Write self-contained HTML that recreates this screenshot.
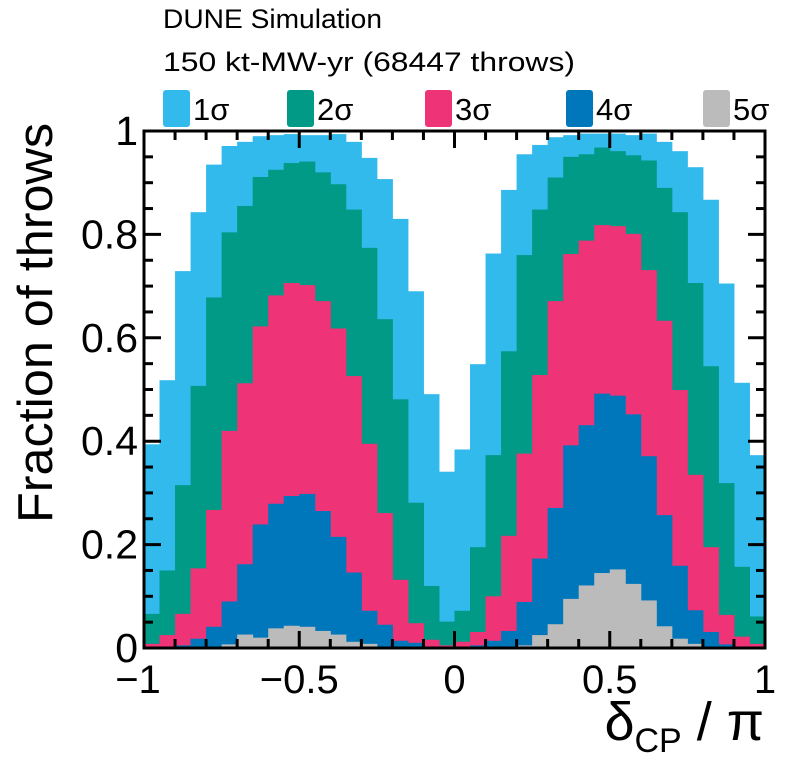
<!DOCTYPE html>
<html><head><meta charset="utf-8"><style>
body{margin:0;background:#fff}
svg{display:block;font-family:"Liberation Sans",Arial,sans-serif}
</style></head><body>
<svg id="chart" width="796" height="772" viewBox="0 0 796 772" xmlns="http://www.w3.org/2000/svg">
<text x="163" y="28" font-size="27" textLength="219" lengthAdjust="spacingAndGlyphs">DUNE Simulation</text>
<text x="163" y="71" font-size="27" textLength="412" lengthAdjust="spacingAndGlyphs">150 kt-MW-yr (68447 throws)</text>
<g id="legend"></g>
<g id="bars"></g>
<g id="axes"></g>
<text transform="translate(52,323) rotate(-90)" text-anchor="middle" font-size="49" textLength="400" lengthAdjust="spacingAndGlyphs">Fraction of throws</text>
<text x="764" y="740" text-anchor="end" font-size="54">δ<tspan font-size="34" dy="12">CP</tspan><tspan dy="-12"> / π</tspan></text>
</svg>
<script>
const legendLabels = ["1σ","2σ","3σ","4σ","5σ"];
const colors = ["#33baed","#009a86","#ee3377","#0077bb","#bbbbbb"];
const s1 = [0.394,0.518,0.729,0.843,0.935,0.971,0.979,0.990,0.992,0.994,0.992,0.992,0.994,0.979,0.948,0.907,0.830,0.690,0.491,0.341,
            0.384,0.549,0.763,0.886,0.955,0.973,0.988,0.992,0.995,0.995,0.995,0.992,0.995,0.979,0.961,0.930,0.867,0.705,0.513,0.373];
const s2 = [0.066,0.150,0.315,0.507,0.678,0.804,0.855,0.911,0.925,0.938,0.941,0.920,0.897,0.848,0.774,0.636,0.481,0.281,0.120,0.051,
            0.072,0.195,0.373,0.574,0.760,0.848,0.910,0.950,0.955,0.968,0.961,0.953,0.943,0.890,0.843,0.706,0.545,0.319,0.157,0.061];
const s3 = [0.008,0.025,0.066,0.154,0.267,0.420,0.512,0.622,0.682,0.706,0.702,0.671,0.618,0.526,0.395,0.261,0.132,0.048,0.016,0.005,
            0.012,0.031,0.100,0.217,0.376,0.528,0.671,0.762,0.788,0.818,0.816,0.801,0.731,0.633,0.499,0.335,0.195,0.064,0.022,0.008];
const s4 = [0,0,0.005,0.018,0.041,0.090,0.162,0.239,0.279,0.294,0.298,0.265,0.215,0.146,0.072,0.045,0.014,0.010,0,0,
            0,0.005,0.014,0.033,0.089,0.173,0.271,0.392,0.431,0.492,0.488,0.452,0.371,0.257,0.159,0.073,0.031,0.007,0,0];
const s5 = [0,0,0,0,0,0.007,0.026,0.020,0.038,0.043,0.041,0.033,0.026,0.012,0.008,0,0,0,0,0,
            0,0,0,0,0.005,0.025,0.046,0.095,0.121,0.145,0.152,0.124,0.092,0.042,0.018,0.008,0,0,0,0];
const xTicks = [-1,-0.5,0,0.5,1];
const xTickLabels = ["\u22121","\u22120.5","0","0.5","1"];
const yTicks = [0,0.2,0.4,0.6,0.8,1];
const yTickLabels = ["0","0.2","0.4","0.6","0.8","1"];

const NS="http://www.w3.org/2000/svg";
const L=144,R=765,T=131,B=648;
const X=v=>L+(v+1)/2*(R-L);
const Y=v=>B-v*(B-T);
function mk(tag,attrs,parent){const e=document.createElementNS(NS,tag);for(const k in attrs)e.setAttribute(k,attrs[k]);parent.appendChild(e);return e;}
const bars=document.getElementById('bars');
const series=[s1,s2,s3,s4,s5];
const nb=s1.length;
series.forEach((s,si)=>{
  const g=mk('g',{fill:colors[si]},bars);
  
  
  s.forEach((v,i)=>{
    if(v<=0)return;
    const x0=X(-1+2*i/nb),x1=X(-1+2*(i+1)/nb);
    const r=mk('rect',{x:x0,y:Y(v),width:x1-x0+0.5,height:Y(0)-Y(v)},g);
    
    
  });
});
const ax=document.getElementById('axes');
const frame=mk('rect',{x:L,y:T,width:R-L,height:B-T,fill:'none',stroke:'#000','stroke-width':3},ax);


for(let k=0;k<=20;k++){
  const v=k*0.05,y=Y(v),len=(k%4===0)?17:9;
  mk('line',{x1:L,x2:L+len,y1:y,y2:y,stroke:'#000','stroke-width':3},ax);
  mk('line',{x1:R,x2:R-len,y1:y,y2:y,stroke:'#000','stroke-width':3},ax);
}
for(let k=0;k<=20;k++){
  const v=-1+k*0.1,x=X(v),len=(k%5===0)?17:9;
  mk('line',{x1:x,x2:x,y1:B,y2:B-len,stroke:'#000','stroke-width':3},ax);
  mk('line',{x1:x,x2:x,y1:T,y2:T+len,stroke:'#000','stroke-width':3},ax);
}
yTicks.forEach((v,i)=>{
  const t=mk('text',{x:138,y:Y(v)+14,'text-anchor':'end','font-size':41},ax);
  t.textContent=yTickLabels[i];
  
  
});
xTicks.forEach((v,i)=>{
  let x=X(v); if(i===0)x+=-6;
  const t=mk('text',{x:x,y:693,'text-anchor':'middle','font-size':40},ax);
  t.textContent=xTickLabels[i];
  
  
});
const leg=document.getElementById('legend');
const lx=[163,287,425,566,703];
legendLabels.forEach((lab,i)=>{
  const g=mk('g',{},leg);
  
  
  mk('rect',{x:lx[i],y:90,width:27,height:37,rx:3,fill:colors[i]},g);
  const t=mk('text',{x:lx[i]+30,y:120,'font-size':31},g);
  t.textContent=lab;
});
</script>
</body></html>
